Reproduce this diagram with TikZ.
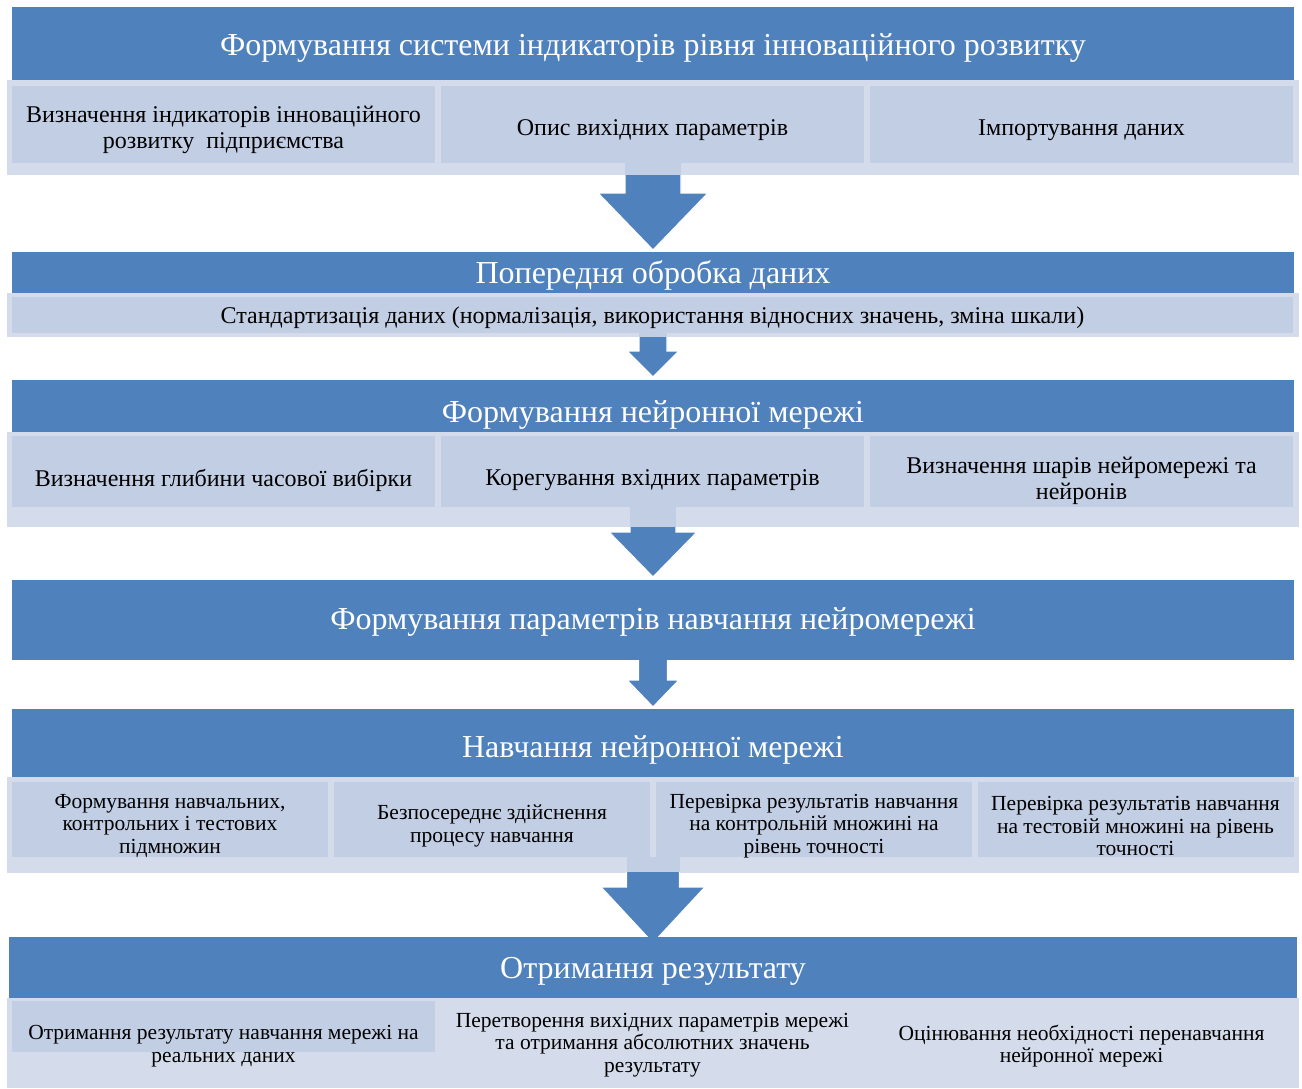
\documentclass[tikz,border=0pt]{standalone}
\usepackage{fontspec}
\setmainfont{Liberation Serif}
\definecolor{hblue}{RGB}{79,129,189}
\definecolor{dsub}{RGB}{194,206,228}
\definecolor{lband}{RGB}{212,219,234}
\newcommand\hfnt{\fontsize{32}{36}\selectfont}
\newcommand\sfa{\fontsize{24}{26}\selectfont}
\newcommand\sfb{\fontsize{24}{26}\selectfont}
\newcommand\sfc{\fontsize{21.5}{22.5}\selectfont}
% block arrow: #1 stem half width, #2 head half width, #3 light top, #4 band bottom, #5 head top, #6 tip
\newcommand\barrow[6]{%
  \fill[dsub] (653-#1,#3) rectangle (653+#1,#4);
  \filldraw[fill=hblue,draw=white,line width=1.2pt,line join=miter]
    (653-#1,#4) -- (653-#1,#5) -- (653-#2,#5) -- (653,#6) -- (653+#2,#5) -- (653+#1,#5) -- (653+#1,#4);
}
\begin{document}
\begin{tikzpicture}[x=1pt,y=-1pt,
  hdr/.style={fill=hblue,inner sep=0pt,outer sep=0pt},
  band/.style={fill=lband,inner sep=0pt,outer sep=0pt},
  subbox/.style={fill=dsub,inner sep=0pt,outer sep=0pt},
  htxt/.style={text=white,inner sep=0pt,font=\hfnt},
  stxt/.style={text=black,inner sep=0pt,align=center}]
\useasboundingbox[fill=white] (0,0) rectangle (1302,1088);

% ---------- Section 1
\path[band] (7,80) rectangle (1299,175);
\node[hdr,minimum width=1282pt,minimum height=73pt] (h1) at (653,43.5) {};
\node[htxt] (h1t) at (653,48) {Формування системи індикаторів рівня інноваційного розвитку};
\node[subbox,minimum width=423pt,minimum height=77pt] (b11) at (223.5,124.5) {};
\node[subbox,minimum width=423pt,minimum height=77pt] (b12) at (652.5,124.5) {};
\node[subbox,minimum width=423pt,minimum height=77pt] (b13) at (1081.5,124.5) {};
\node[stxt,font=\sfa] (t11) at (223.5,130) {Визначення індикаторів інноваційного\\розвитку\ \ підприємства};
\node[stxt,font=\sfa] (t12) at (652.5,130) {Опис вихідних параметрів};
\node[stxt,font=\sfa] (t13) at (1081.5,130) {Імпортування даних};
\barrow{28}{55}{163}{175}{193}{250}

% ---------- Section 2
\path[band] (7,293) rectangle (1299,337);
\node[hdr,minimum width=1282pt,minimum height=41pt] (h2) at (653,272.5) {};
\node[htxt] (h2t) at (653,275) {Попередня обробка даних};
\node[subbox,minimum width=1281pt,minimum height=36pt] (b21) at (652.5,315) {};
\node[stxt,font=\sfb] (t21) at (652.5,318) {Стандартизація даних (нормалізація, використання відносних значень, зміна шкали)};
\barrow{14}{26}{333}{337}{351}{377}

% ---------- Section 3
\path[band] (7,432) rectangle (1299,527);
\node[hdr,minimum width=1282pt,minimum height=52pt] (h3) at (653,406) {};
\node[htxt] (h3t) at (653,415) {Формування нейронної мережі};
\node[subbox,minimum width=423pt,minimum height=71pt] (b31) at (223.5,471.5) {};
\node[subbox,minimum width=423pt,minimum height=71pt] (b32) at (652.5,471.5) {};
\node[subbox,minimum width=423pt,minimum height=71pt] (b33) at (1081.5,471.5) {};
\node[stxt,font=\sfa] (t31) at (223.5,480) {Визначення глибини часової вибірки};
\node[stxt,font=\sfa] (t32) at (652.5,480) {Корегування вхідних параметрів};
\node[stxt,font=\sfa] (t33) at (1081.5,481) {Визначення шарів нейромережі та\\нейронів};
\barrow{23}{44}{507}{527}{532}{577}

% ---------- Section 4
\node[hdr,minimum width=1282pt,minimum height=80pt] (h4) at (653,620) {};
\node[htxt] (h4t) at (653,622) {Формування параметрів навчання нейромережі};
\barrow{14.5}{26}{660}{660}{680}{707}

% ---------- Section 5
\path[band] (7,777) rectangle (1299,873);
\node[hdr,minimum width=1282pt,minimum height=68pt] (h5) at (653,743) {};
\node[htxt] (h5t) at (653,750) {Навчання нейронної мережі};
\node[subbox,minimum width=316pt,minimum height=75pt] (b51) at (170,819.5) {};
\node[subbox,minimum width=316pt,minimum height=75pt] (b52) at (492,819.5) {};
\node[subbox,minimum width=316pt,minimum height=75pt] (b53) at (814,819.5) {};
\node[subbox,minimum width=316pt,minimum height=75pt] (b54) at (1135.5,819.5) {};
\node[stxt,font=\sfc] (t51) at (170,826) {Формування навчальних,\\контрольних і тестових\\підмножин};
\node[stxt,font=\sfc] (t52) at (492,826) {Безпосереднє здійснення\\процесу навчання};
\node[stxt,font=\sfc] (t53) at (814,826) {Перевірка результатів навчання\\на контрольній множині на\\рівень точності};
\node[stxt,font=\sfc] (t54) at (1135.5,826) {Перевірка результатів навчання\\на тестовій множині на рівень\\точності};
\barrow{26.5}{52}{857}{872}{887}{943}

% ---------- Section 6
\path[band] (7,998) rectangle (1299,1088);
\node[hdr,minimum width=1288pt,minimum height=61pt] (h6) at (653,967.5) {};
\node[htxt] (h6t) at (653,971) {Отримання результату};
\node[subbox,minimum width=423pt,minimum height=51pt] (b61) at (223.5,1026.5) {};
\node[stxt,font=\sfc] (t61) at (223.5,1046) {Отримання результату навчання мережі на\\реальних даних};
\node[stxt,font=\sfc] (t62) at (652.5,1045) {Перетворення вихідних параметрів мережі\\та отримання абсолютних значень\\результату};
\node[stxt,font=\sfc] (t63) at (1081.5,1046) {Оцінювання необхідності перенавчання\\нейронної мережі};
\end{tikzpicture}
\end{document}
